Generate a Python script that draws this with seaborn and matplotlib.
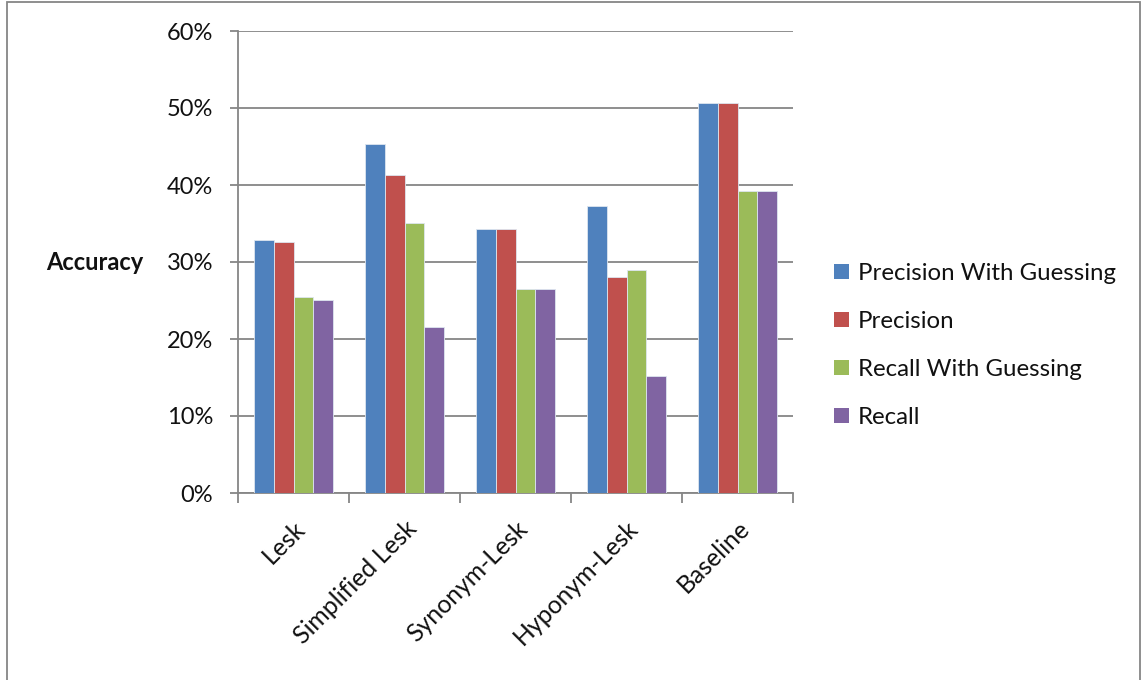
import matplotlib
matplotlib.use("Agg")
import matplotlib.pyplot as plt
import seaborn as sns
import pandas as pd
from matplotlib.ticker import FixedLocator, PercentFormatter
from matplotlib.patches import Rectangle

methods = ["Lesk", "Simplified Lesk", "Synonym-Lesk", "Hyponym-Lesk", "Baseline"]
series = ["Precision With Guessing", "Precision", "Recall With Guessing", "Recall"]
precision_guess = [32.9, 45.3, 34.3, 37.3, 50.6]
precision = [32.6, 41.3, 34.3, 28.0, 50.6]
recall_guess = [25.4, 35.1, 26.5, 29.0, 39.2]
recall = [25.1, 21.5, 26.5, 15.2, 39.2]
colors = ["#4F81BD", "#C0504D", "#9BBB59", "#8064A2"]
y_ticks = [0, 10, 20, 30, 40, 50, 60]

rows = []
for s, vals in zip(series, [precision_guess, precision, recall_guess, recall]):
    for m, v in zip(methods, vals):
        rows.append({"Method": m, "Series": s, "Value": v})
df = pd.DataFrame(rows)

sns.set_theme(style="white")
plt.rcParams["font.family"] = ["Lato", "DejaVu Sans"]

fig = plt.figure(figsize=(11.42, 6.8), dpi=100)
ax = fig.add_axes([238/1142, 187/680, 555/1142, 462/680])

sns.barplot(data=df, x="Method", y="Value", hue="Series", order=methods,
            hue_order=series, palette=colors, width=0.72, gap=0,
            edgecolor="#dde6f0", linewidth=0.6, saturation=1, ax=ax, zorder=3)

ax.set_ylim(0, 60)
ax.set_xlim(-0.5, 4.5)
ax.yaxis.set_major_locator(FixedLocator(y_ticks))
ax.yaxis.set_major_formatter(PercentFormatter(decimals=0))
ax.grid(axis="y", color="#868686", linewidth=1.3, zorder=0)
ax.set_axisbelow(True)

for sp in ["top", "right"]:
    ax.spines[sp].set_visible(False)
for sp in ["left", "bottom"]:
    ax.spines[sp].set_color("#868686")
    ax.spines[sp].set_linewidth(1.3)

ax.tick_params(axis="y", which="major", length=6, width=1.3, color="#868686",
               labelsize=17, pad=12, left=True, labelcolor="#111111")
ax.set_xticks(range(len(methods)))
ax.set_xticklabels(methods, rotation=45, ha="right", rotation_mode="anchor",
                   fontsize=17.8, color="#111111")
ax.tick_params(axis="x", which="major", length=0, pad=17)
ax.set_xticks([i - 0.5 for i in range(len(methods) + 1)], minor=True)
ax.tick_params(axis="x", which="minor", length=7, width=1.3, color="#868686", bottom=True)

ax.set_xlabel("")
ax.set_ylabel("Accuracy", rotation=0, fontsize=17, fontweight="bold",
              ha="center", va="center", color="#111111")
ax.yaxis.set_label_coords(-0.259, 0.498)

leg = ax.legend(loc="center left", bbox_to_anchor=(1.056, 0.3195), frameon=False,
                fontsize=17.3, handlelength=0.62, handleheight=0.62,
                handletextpad=0.4, labelspacing=1.12, borderaxespad=0)
for t in leg.get_texts():
    t.set_color("#111111")
for h in leg.legend_handles:
    h.set_edgecolor("none")

fig.patches.append(Rectangle((7/1142, -0.1), 1133/1142, 1.1 - 2/680,
                             transform=fig.transFigure, fill=False,
                             edgecolor="#868686", linewidth=1.3))

fig.savefig("out.png", dpi=100)
